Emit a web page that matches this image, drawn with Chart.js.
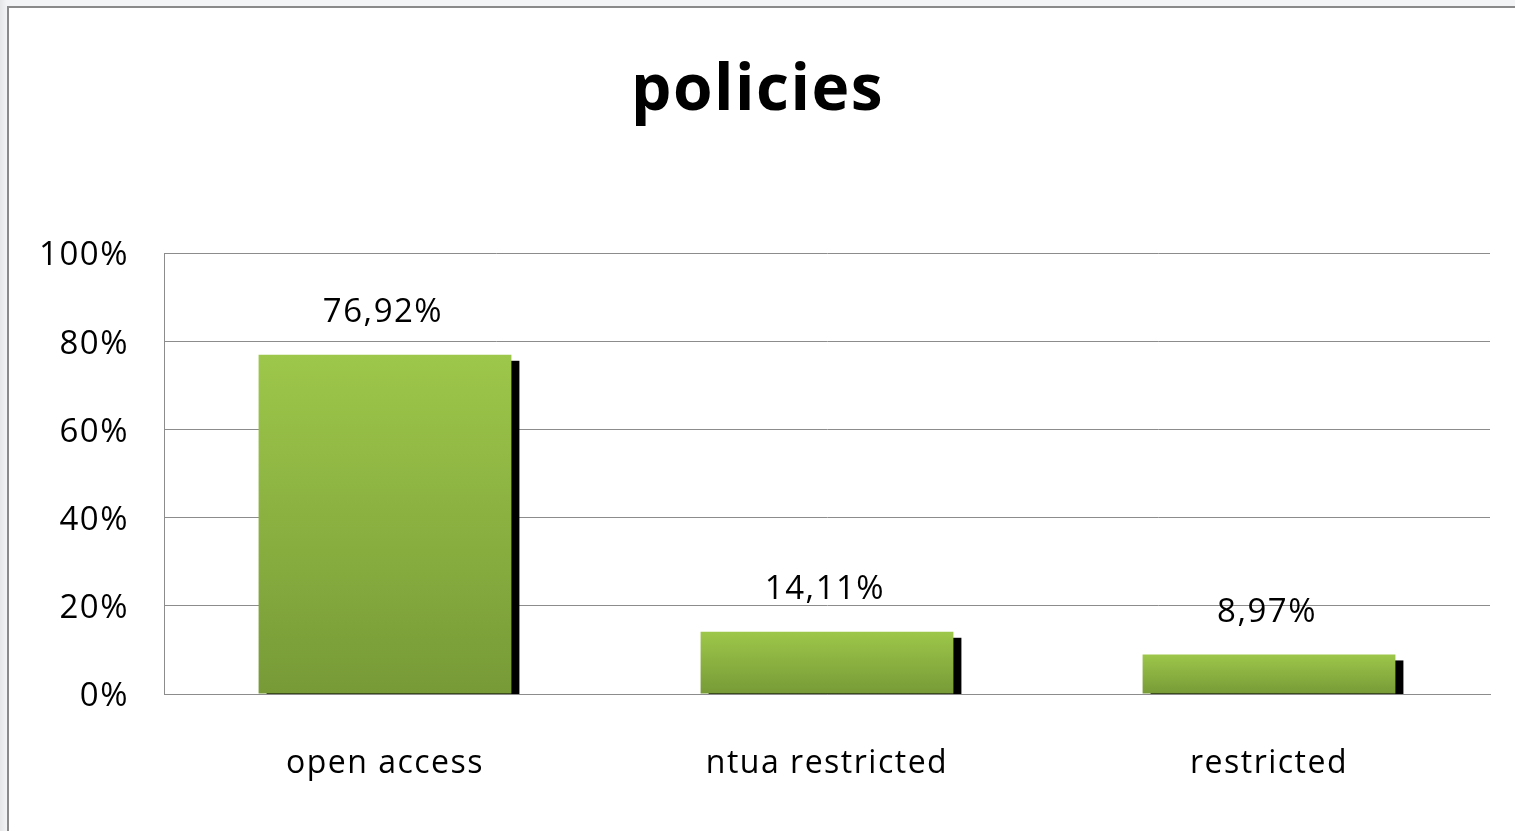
<!DOCTYPE html>
<html>
<head>
<meta charset="utf-8">
<title>policies</title>
<script src="https://cdn.jsdelivr.net/npm/chart.js@4"></script>
<style>
  html, body { margin: 0; padding: 0; }
  body {
    width: 1515px; height: 831px; overflow: hidden;
    background: linear-gradient(90deg, #e4e6e8 0px, #f3f4f5 7px);
    position: relative;
  }
  #frame {
    position: absolute; left: 7px; top: 6px; width: 1520px; height: 840px;
    background: #fff; border-left: 2px solid #8a8a8a; border-top: 2px solid #8a8a8a;
  }
  #chart { position: absolute; left: 0; top: 0; }
</style>
</head>
<body>
<div id="frame"></div>
<canvas id="chart" width="1515" height="831"></canvas>
<script>
// Data
var categories = ['open access', 'ntua restricted', 'restricted'];
var values = [76.92, 14.11, 8.97];
var valueLabels = ['76,92%', '14,11%', '8,97%'];
var yTicks = [0, 20, 40, 60, 80, 100];

var fontFamily = '"Open Sans", "DejaVu Sans", sans-serif';

// the original text is a bit spaced out
var spacingPlugin = {
  id: 'spacing',
  beforeDraw: function (chart) { chart.ctx.letterSpacing = '1.5px'; },
  afterDraw: function (chart) { chart.ctx.letterSpacing = '0px'; }
};

// black drop shadow behind each bar (offset right/down)
var shadowPlugin = {
  id: 'barShadow',
  beforeDatasetsDraw: function (chart) {
    var ctx = chart.ctx;
    var meta = chart.getDatasetMeta(0);
    var base = chart.scales.y.getPixelForValue(0);
    ctx.save();
    ctx.fillStyle = '#000';
    meta.data.forEach(function (bar) {
      var w = bar.width;
      ctx.fillRect(bar.x - w / 2 + 8, bar.y + 6, w, base - bar.y - 6);
    });
    ctx.restore();
  }
};

// value labels above the bars
var labelPlugin = {
  id: 'valueLabels',
  afterDatasetsDraw: function (chart) {
    var ctx = chart.ctx;
    var meta = chart.getDatasetMeta(0);
    ctx.save();
    ctx.fillStyle = '#000';
    ctx.font = '33px ' + fontFamily;
    ctx.textAlign = 'center';
    ctx.textBaseline = 'middle';
    meta.data.forEach(function (bar, i) {
      ctx.fillText(valueLabels[i], bar.x - 2, bar.y - 42);
    });
    ctx.restore();
  }
};

var ctx = document.getElementById('chart').getContext('2d');

new Chart(ctx, {
  type: 'bar',
  data: {
    labels: categories,
    datasets: [{
      data: values,
      backgroundColor: function (c) {
        var area = c.chart.chartArea;
        if (!area) return '#8ab043';
        var top = c.chart.scales.y.getPixelForValue(c.raw);
        var grad = c.chart.ctx.createLinearGradient(0, top, 0, area.bottom);
        grad.addColorStop(0, '#9dc74a');
        grad.addColorStop(1, '#779a37');
        return grad;
      },
      borderWidth: 0,
      categoryPercentage: 1,
      barPercentage: 0.572
    }]
  },
  options: {
    responsive: false,
    animation: false,
    devicePixelRatio: 1,
    layout: { padding: { left: 25, right: 25, top: 0, bottom: 0 } },
    plugins: {
      legend: { display: false },
      tooltip: { enabled: false },
      title: {
        display: true,
        text: 'policies',
        color: '#000',
        font: { family: fontFamily, size: 64, weight: 'bold', lineHeight: 1.2 },
        padding: { top: 53, bottom: 123.2 }
      }
    },
    scales: {
      x: {
        grid: { display: false },
        border: { display: true, color: '#8c8c8c', width: 1 },
        ticks: { color: '#000', font: { family: fontFamily, size: 32 }, padding: 43 },
        afterFit: function (s) { s.height = 137; }
      },
      y: {
        min: 0,
        max: 100,
        afterBuildTicks: function (s) {
          s.ticks = yTicks.map(function (v) { return { value: v }; });
        },
        grid: { color: '#8c8c8c', lineWidth: 1, drawTicks: false },
        border: { display: true, color: '#8c8c8c', width: 1 },
        ticks: {
          color: '#000',
          font: { family: fontFamily, size: 33 },
          padding: 35,
          labelOffset: 3,
          callback: function (v) { return v + '%'; }
        },
        afterFit: function (s) { s.width = 139; }
      }
    }
  },
  plugins: [spacingPlugin, shadowPlugin, labelPlugin]
});
</script>
</body>
</html>
